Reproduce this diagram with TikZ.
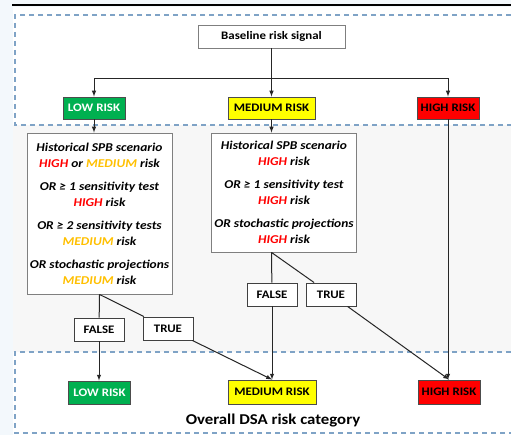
\documentclass[tikz,border=0pt]{standalone}
\usepackage{fontspec}
\setmainfont{Carlito}[FakeStretch=1.12]
\usetikzlibrary{arrows}

\definecolor{riskgreen}{HTML}{00B050}
\definecolor{riskyellow}{HTML}{FFFF00}
\definecolor{riskred}{HTML}{FF0000}
\definecolor{txtorange}{HTML}{FFC000}
\definecolor{panelblue}{HTML}{7FA3C6}
\definecolor{pagebg}{HTML}{F3F8FC}
\definecolor{midbg}{HTML}{F7F7F7}
\definecolor{boxline}{HTML}{7F7F7F}

\newcommand{\hirisk}{\textcolor{riskred}{HIGH}}
\newcommand{\medrisk}{\textcolor{txtorange}{MEDIUM}}

\begin{document}
\begin{tikzpicture}[x=1pt, y=-1pt,
        panel/.style={panelblue, line width=1.3pt, dash pattern=on 5pt off 4pt},
        box/.style={draw=boxline, line width=0.9pt, fill=white, inner sep=0pt},
        risk/.style={box, draw=black!70, minimum width=62, minimum height=22,
            font=\fontsize{11.5}{13}\selectfont\bfseries},
        cond/.style={box, minimum width=145, align=center,
            font=\fontsize{12}{16}\selectfont\bfseries\itshape},
        tf/.style={box, draw=black!75, minimum width=50, minimum height=23,
            font=\fontsize{11.5}{12}\selectfont\bfseries},
        link/.style={black!85, line width=1pt},
        >=latex]
    % background and panels
    \fill[pagebg] (0,0) rectangle (511,435);
    \useasboundingbox (0,0) rectangle (511,435);
    \fill[white] (13,7) rectangle (511,125);
    \fill[midbg] (13,125) rectangle (511,352);
    \fill[white] (13,352) rectangle (511,435);
    \draw[black, line width=1.2pt] (12,5) -- (511,5);
    \draw[panel] (511,15) -- (15,15) -- (15,125) -- (511,125);
    \draw[panel] (511,352) -- (15,352) -- (15,433) -- (511,433);

    % baseline signal
    \node[box, minimum width=147, minimum height=23, font=\fontsize{11.5}{12}\selectfont\bfseries]
        (baseline) at (271.5,36.5) {Baseline risk signal};
    \node[risk, fill=riskgreen, text=white] (lowtop) at (94,108) {LOW RISK};
    \node[risk, fill=riskyellow, minimum width=87] (medtop) at (271.5,108) {MEDIUM RISK};
    \node[risk, fill=riskred, minimum width=62] (hightop) at (448,108) {HIGH RISK};
    \coordinate (split) at (271.5,79);

    % conditions
    \node[cond, minimum height=161] (leftcond) at (99.5,213.5) {%
        Historical SPB scenario\\ \hirisk{} or \medrisk{} risk\\[7pt]
        OR ≥ 1 sensitivity test\\ \hirisk{} risk\\[7pt]
        OR ≥ 2 sensitivity tests\\ \medrisk{} risk\\[7pt]
        OR stochastic projections\\ \medrisk{} risk};
    \node[cond, minimum height=119] (midcond) at (284,192.5) {%
        Historical SPB scenario\\ \hirisk{} risk\\[7pt]
        OR ≥ 1 sensitivity test\\ \hirisk{} risk\\[7pt]
        OR stochastic projections\\ \hirisk{} risk};
    \coordinate (msplit) at (midcond.south -| medtop);

    \node[tf] (lfalse) at (99,329.5) {FALSE};
    \node[tf] (ltrue) at (168,328.5) {TRUE};
    \node[tf] (mfalse) at (272,294.5) {FALSE};
    \node[tf] (mtrue) at (331,294.5) {TRUE};

    % overall category
    \node[risk, fill=riskgreen, text=white, minimum height=23] (lowbot) at (99.5,392.5) {LOW RISK};
    \node[risk, fill=riskyellow, minimum width=88, minimum height=24] (medbot) at (272,392) {MEDIUM RISK};
    \node[risk, fill=riskred, minimum width=62, minimum height=24] (highbot) at (449,392) {HIGH RISK};
    \node[font=\fontsize{15}{17}\selectfont\bfseries] (overall) at (273,421) {Overall DSA risk category};

    % connectors
    \draw[link] (baseline) -- (split);
    \draw[link, ->] (split) -| (lowtop);
    \draw[link, ->] (split) -| (hightop);
    \draw[link, ->] (split) -- (medtop);
    \draw[link, ->] (lowtop.south) -- (lowtop.south |- leftcond.north);
    \draw[link, ->] (medtop) -- (medtop |- midcond.north);
    \draw[link, ->] (hightop) -- (hightop |- highbot.north);

    \draw[link] (leftcond.south) -- (lfalse);
    \draw[link, ->] (lfalse) -- (lfalse |- lowbot.north);
    \draw[link] (leftcond.south) -- (ltrue);
    \draw[link, ->] (ltrue) -- (medbot.north);

    \draw[link] (msplit) -- (mfalse);
    \draw[link, ->] (mfalse) -- (medbot.north);
    \draw[link] (msplit) -- (mtrue);
    \draw[link, ->] (mtrue) -- (highbot.north);
\end{tikzpicture}
\end{document}
